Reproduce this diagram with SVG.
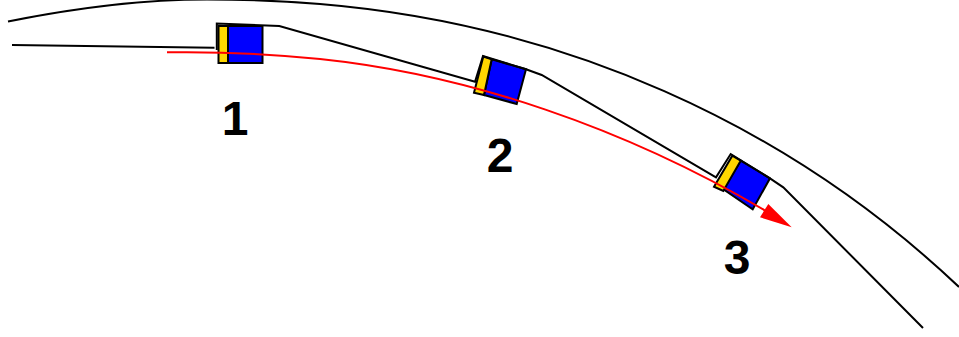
<svg xmlns="http://www.w3.org/2000/svg" width="959" height="337" viewBox="0 0 959 337">
<style>
.w{fill:none;stroke:#000;stroke-width:2}
.b{fill:#00f;stroke:#000;stroke-width:2}
.y{fill:#ffd700;stroke:#000;stroke-width:2}
.t{font-family:"Liberation Sans",Arial,sans-serif;font-weight:bold;font-size:48px;fill:#000;text-anchor:middle}
</style>
<rect width="959" height="337" fill="#fff"/>
<g id="node-1">
<rect class="b" x="228" y="26" width="34.500" height="37"/>
<rect class="y" x="218.500" y="26" width="9.500" height="37"/>
</g>
<g id="node-2">
<path class="b" d="M491.700 59.300L526 69.300L516.700 104L484 95Z"/>
<path class="y" d="M483.300 56.500L491.700 59.300L484 95L474 92.700Z"/>
</g>
<g id="node-3">
<path class="b" d="M740.700 160.700L770 178.300L752.700 209.300L723.300 189.300Z"/>
<path class="y" d="M732.300 155.700L740.700 160.700L723.300 191L714 186.700Z"/>
</g>
<g id="connectors">
<path id="road" class="w" d="M8 21.500C70 9 140 -0.500 207 -0.500C245 -0.500 283 1 320 4C560 24 785 122 959 287"/>
<path id="path-in-a" class="w" d="M12 45L214.500 47.700"/>
<path id="path-in-b" class="w" d="M216.800 50V23.500L279.300 26L475 81.700L483 56L526 69.300L541.700 75L716 177.300L730.700 154L770 178.300L783.300 187.300L923 328"/>
<path id="trajectory" d="M167 52.300C215 51.500 270 54 320 59C468 74.500 625 128 765 210.500" fill="none" stroke="#f00" stroke-width="2"/>
<path id="arrowhead" d="M791.700 227.300L768.300 204L760 217.300Z" fill="#f00"/>
</g>
<text class="t" x="235" y="135">1</text>
<text class="t" x="500" y="172">2</text>
<text class="t" x="737" y="274">3</text>
</svg>
